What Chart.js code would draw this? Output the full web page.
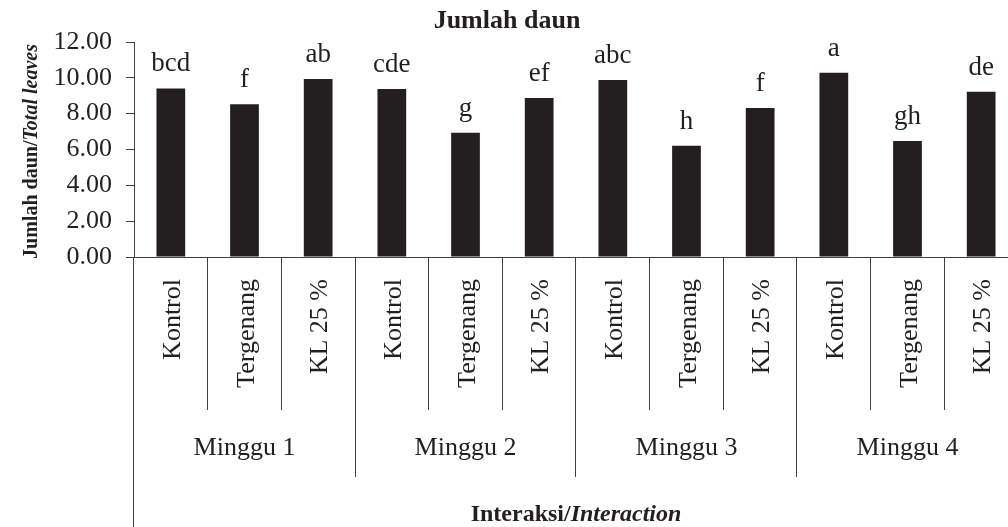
<!DOCTYPE html>
<html>
<head>
<meta charset="utf-8">
<script src="https://cdn.jsdelivr.net/npm/chart.js@4"></script>
<style>
  html, body { margin: 0; padding: 0; background: #fff; overflow: hidden; }
  canvas { display: block; }
</style>
</head>
<body>
<canvas id="c" width="1020" height="527"></canvas>
<script>
const categories = ['Kontrol', 'Tergenang', 'KL 25 %', 'Kontrol', 'Tergenang', 'KL 25 %', 'Kontrol', 'Tergenang', 'KL 25 %', 'Kontrol', 'Tergenang', 'KL 25 %'];
const groups = ['Minggu 1', 'Minggu 2', 'Minggu 3', 'Minggu 4'];
const values = [9.41, 8.53, 9.93, 9.37, 6.93, 8.87, 9.88, 6.21, 8.31, 10.28, 6.48, 9.22];
const letters = ['bcd', 'f', 'ab', 'cde', 'g', 'ef', 'abc', 'h', 'f', 'a', 'gh', 'de'];
const yTicks = [0, 2, 4, 6, 8, 10, 12];
const titleText = 'Jumlah daun';
const yTitle = ['Jumlah daun/', 'Total leaves'];
const xTitle = ['Interaksi/', 'Interaction'];

const SERIF = "'Liberation Serif', 'Times New Roman', serif";
const INK = '#231f20';
const LINE = '#404040';

function align(p) { return Math.round(p - 0.5) + 0.5; }

const decor = {
  id: 'decor',
  afterDatasetsDraw(chart) {
    const ctx = chart.ctx;
    const xs = chart.scales.x;
    const area = chart.chartArea;
    const meta = chart.getDatasetMeta(0);
    const n = categories.length;
    const per = n / groups.length;
    const half = (xs.getPixelForValue(1) - xs.getPixelForValue(0)) / 2;
    const boundary = k => xs.getPixelForValue(k) - half; // left edge of category k
    ctx.save();
    ctx.fillStyle = INK;
    // letters above bars
    ctx.font = '27px ' + SERIF;
    ctx.textAlign = 'center';
    ctx.textBaseline = 'alphabetic';
    meta.data.forEach((bar, i) => {
      ctx.fillText(letters[i], bar.x, bar.y - 17);
    });
    // title
    ctx.font = 'bold 26px ' + SERIF;
    ctx.fillText(titleText, chart.width / 2 - 3, 28);

    // category labels (rotated)
    ctx.font = '26px ' + SERIF;
    categories.forEach((lab, i) => {
      const x = xs.getPixelForValue(i);
      ctx.save();
      ctx.translate(x + 9, area.bottom + 22);
      ctx.rotate(-Math.PI / 2);
      ctx.textAlign = 'right';
      ctx.textBaseline = 'alphabetic';
      ctx.fillText(lab, 0, 0);
      ctx.restore();
    });

    // separators
    ctx.strokeStyle = LINE;
    ctx.lineWidth = 1;
    for (let k = 0; k <= n; k++) {
      let len;
      if (k === 0) len = chart.height - area.bottom;
      else if (k % per === 0) len = 220;
      else len = 153;
      const px = align(boundary(k));
      ctx.beginPath();
      ctx.moveTo(px, area.bottom);
      ctx.lineTo(px, area.bottom + len);
      ctx.stroke();
    }
    // group labels
    ctx.textAlign = 'center';
    groups.forEach((g, gi) => {
      const x0 = boundary(gi * per);
      const x1 = boundary(gi * per + per);
      ctx.fillText(g, (x0 + x1) / 2, area.bottom + 198);
    });

    // x title
    const cx = (area.left + area.right) / 2;
    ctx.font = 'bold 24px ' + SERIF;
    const w1 = ctx.measureText(xTitle[0]).width;
    ctx.font = 'italic bold 24px ' + SERIF;
    const w2 = ctx.measureText(xTitle[1]).width;
    let sx = cx - (w1 + w2) / 2;
    ctx.textAlign = 'left';
    ctx.font = 'bold 24px ' + SERIF;
    ctx.fillText(xTitle[0], sx, 521);
    ctx.font = 'italic bold 24px ' + SERIF;
    ctx.fillText(xTitle[1], sx + w1, 521);

    // y title (rotated)
    const cy = (area.top + area.bottom) / 2;
    ctx.save();
    ctx.translate(37, cy + 2);
    ctx.rotate(-Math.PI / 2);
    ctx.font = 'bold 20px ' + SERIF;
    const v1 = ctx.measureText(yTitle[0]).width;
    ctx.font = 'italic bold 20px ' + SERIF;
    const v2 = ctx.measureText(yTitle[1]).width;
    const s = -(v1 + v2) / 2;
    ctx.textAlign = 'left';
    ctx.font = 'bold 20px ' + SERIF;
    ctx.fillText(yTitle[0], s, 0);
    ctx.font = 'italic bold 20px ' + SERIF;
    ctx.fillText(yTitle[1], s + v1, 0);
    ctx.restore();

    ctx.restore();
  }
};

new Chart(document.getElementById('c'), {
  type: 'bar',
  data: {
    labels: categories,
    datasets: [{
      data: values,
      backgroundColor: INK,
      borderWidth: 0,
      barPercentage: 0.39,
      categoryPercentage: 1.0
    }]
  },
  options: {
    responsive: false,
    animation: false,
    devicePixelRatio: 1,
    layout: { padding: { left: 0, top: 42, right: 2, bottom: 0 } },
    plugins: { legend: { display: false }, tooltip: { enabled: false }, title: { display: false } },
    scales: {
      x: {
        offset: true,
        afterFit(scale) { scale.height = 270; },
        grid: { display: false },
        border: { display: true, color: LINE, width: 1 },
        ticks: { display: false }
      },
      y: {
        min: 0,
        max: 12,
        afterFit(scale) { scale.width = 134; },
        afterBuildTicks(scale) { scale.ticks = yTicks.map(v => ({ value: v })); },
        grid: { display: true, drawOnChartArea: false, drawTicks: true, tickLength: 8, color: LINE, lineWidth: 1 },
        border: { display: true, color: LINE, width: 1 },
        ticks: {
          padding: 14,
          color: INK,
          font: { family: SERIF, size: 26 },
          callback: v => Number(v).toFixed(2)
        }
      }
    }
  },
  plugins: [decor]
});
</script>
</body>
</html>
